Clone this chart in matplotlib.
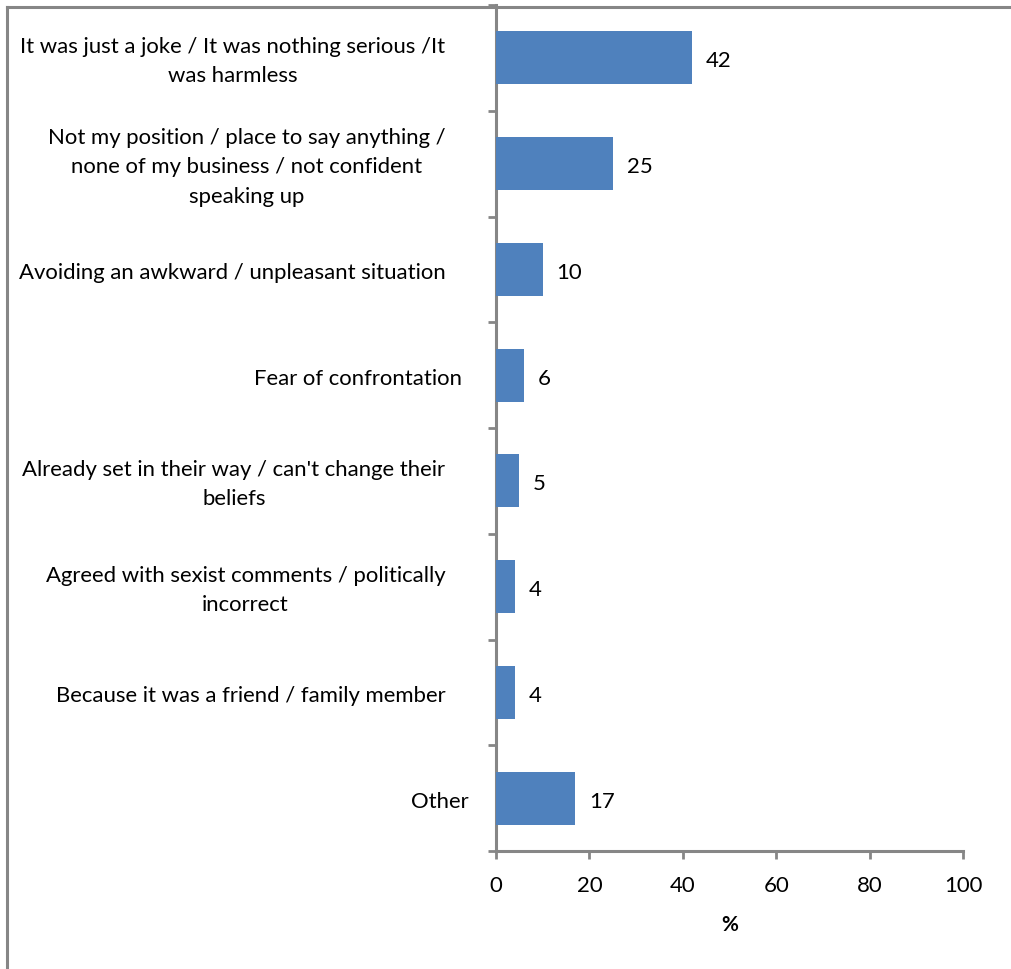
import matplotlib
matplotlib.use("Agg")
import matplotlib.pyplot as plt
from matplotlib.lines import Line2D

plt.rcParams['font.family'] = ['Lato', 'DejaVu Sans']

categories = [
    "It was just a joke / It was nothing serious /It\nwas harmless",
    "Not my position / place to say anything /\nnone of my business / not confident\nspeaking up",
    "Avoiding an awkward / unpleasant situation",
    "Fear of confrontation",
    "Already set in their way / can't change their\nbeliefs",
    "Agreed with sexist comments / politically\nincorrect",
    "Because it was a friend / family member",
    "Other",
]
values = [42, 25, 10, 6, 5, 4, 4, 17]
x_ticks = [0, 20, 40, 60, 80, 100]
x_label = "%"

BAR = "#4F81BD"
AXIS = "#868686"
FS = 15.9
DROP = -2.6  # small downward nudge for text beside the bars (points)

W, H = 1012, 969
fig = plt.figure(figsize=(W / 100, H / 100), dpi=100)
ax = fig.add_axes([496 / W, 1 - 851 / H, (963 - 496) / W, (851 - 5) / H])

n = len(categories)
pos = list(range(n))
ax.barh(pos, values, height=0.5, color=BAR, zorder=3)
ax.set_ylim(n - 0.5, -0.5)
ax.set_xlim(0, 100)

# value labels at bar ends
for p, v in zip(pos, values):
    ax.annotate(f"{v}", xy=(v, p), xytext=(10, DROP), textcoords="offset points",
                ha="left", va="center", fontsize=FS, color="black")

# category labels, right-aligned beside the axis; short labels sit closer
ax.set_yticks(pos)
ax.set_yticklabels([])
ax.tick_params(axis="y", length=0)
gap = {3: 24.5, 7: 19.5}
for p, lab in zip(pos, categories):
    ax.annotate(lab, xy=(0, p), xycoords=("axes fraction", "data"),
                xytext=(-gap.get(p, 36.5), DROP), textcoords="offset points",
                ha="right", va="center", multialignment="center",
                linespacing=1.58, fontsize=FS, color="black")

# category boundary ticks
ax.set_yticks([i - 0.5 for i in range(n + 1)], minor=True)
ax.tick_params(axis="y", which="minor", length=6, width=2, color=AXIS, direction="out")

ax.set_xticks(x_ticks)
ax.set_xticklabels([str(t) for t in x_ticks], fontsize=FS)
ax.tick_params(axis="x", length=6, width=2, color=AXIS, direction="out", pad=12)
ax.set_xlabel(x_label, fontsize=FS - 1, fontweight="bold", labelpad=14)

for s in ("top", "right"):
    ax.spines[s].set_visible(False)
for s in ("left", "bottom"):
    ax.spines[s].set_color(AXIS)
    ax.spines[s].set_linewidth(2.2)

# outer chart border
fig.add_artist(Line2D([7 / W, 1.0], [1 - 7 / H, 1 - 7 / H], transform=fig.transFigure,
                      color=AXIS, lw=2.2))
fig.add_artist(Line2D([7 / W, 7 / W], [0.0, 1 - 7 / H], transform=fig.transFigure,
                      color=AXIS, lw=2.2))

fig.savefig("out.png", dpi=100, facecolor="white")
